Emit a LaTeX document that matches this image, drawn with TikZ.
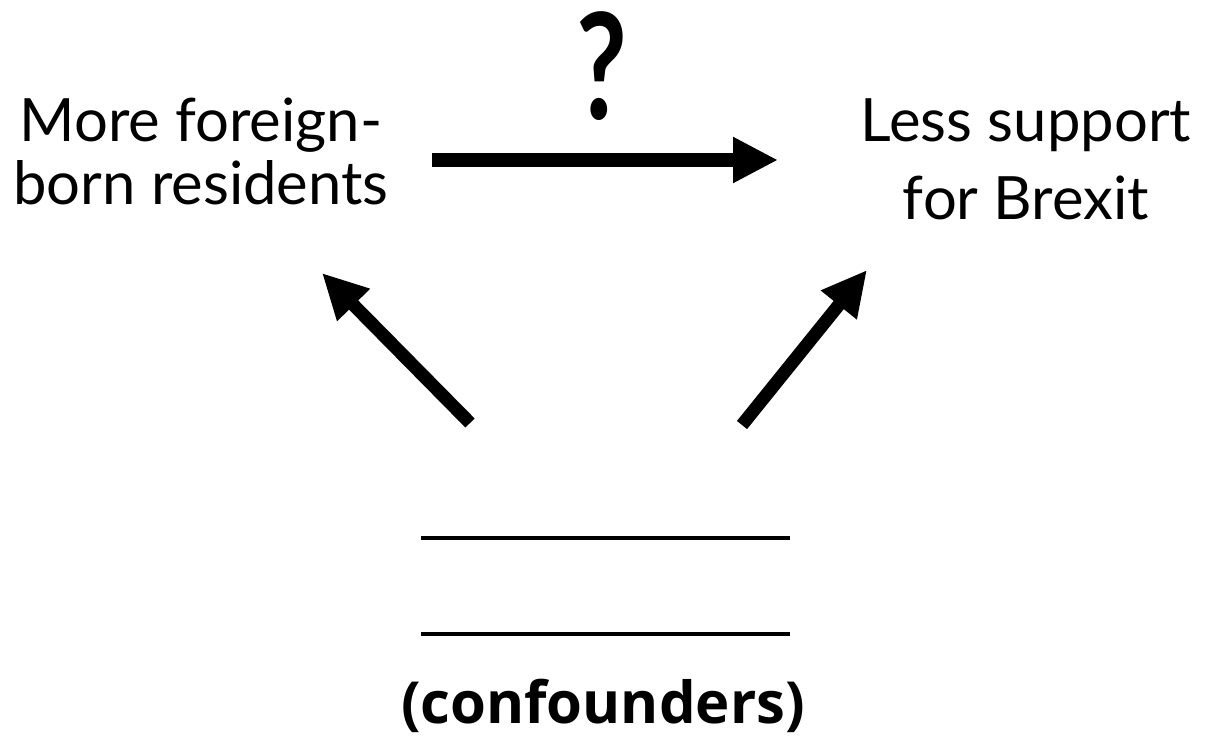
\documentclass[tikz,border=0pt]{standalone}
\usepackage{fontspec}
\setmainfont{Lato}
\newfontfamily\confont{Open Sans}
\usetikzlibrary{arrows.meta}
\begin{document}
\begin{tikzpicture}[x=1cm,y=1cm,
  lbl/.style={anchor=base, inner sep=0pt, font=\fontsize{34}{36}\selectfont},
  bigarrow/.style={line width=7.4pt, -{Triangle[length=0.9cm,width=0.86cm]}},
  blank/.style={line width=2.3pt}]
\useasboundingbox (0,0) rectangle (24.1,14.74);
% texts
\node[lbl] (l1) at (4.02,11.90) {More foreign-};
\node[lbl] (l2) at (4.02,10.64) {born residents};
\node[lbl] (r1) at (20.52,11.90) {Less support};
\node[lbl] (r2) at (20.52,10.34) {for Brexit};
\node[anchor=base, inner sep=0pt, xscale=0.75, font=\fontsize{84}{86}\selectfont\bfseries] (q) at (12.04,12.34) {?};
\node[anchor=base, inner sep=0pt, font=\confont\fontsize{33}{35}\selectfont\bfseries] (conf) at (12.06,0.28) {(confounders)};
% arrow ends
\coordinate (hA) at (8.64,11.54);
\coordinate (hB) at (15.56,11.54);
\coordinate (lA) at (9.40,6.28);
\coordinate (lB) at (6.44,9.28);
\coordinate (rA) at (14.84,6.24);
\coordinate (rB) at (17.34,9.34);
\draw[bigarrow] (hA) -- (hB);
\draw[bigarrow] (lA) -- (lB);
\draw[bigarrow] (rA) -- (rB);
% blanks
\coordinate (b1a) at (8.42,3.98);
\coordinate (b1b) at (15.80,3.98);
\coordinate (b2a) at (8.42,2.06);
\coordinate (b2b) at (15.80,2.06);
\draw[blank] (b1a) -- (b1b);
\draw[blank] (b2a) -- (b2b);
\end{tikzpicture}
\end{document}
